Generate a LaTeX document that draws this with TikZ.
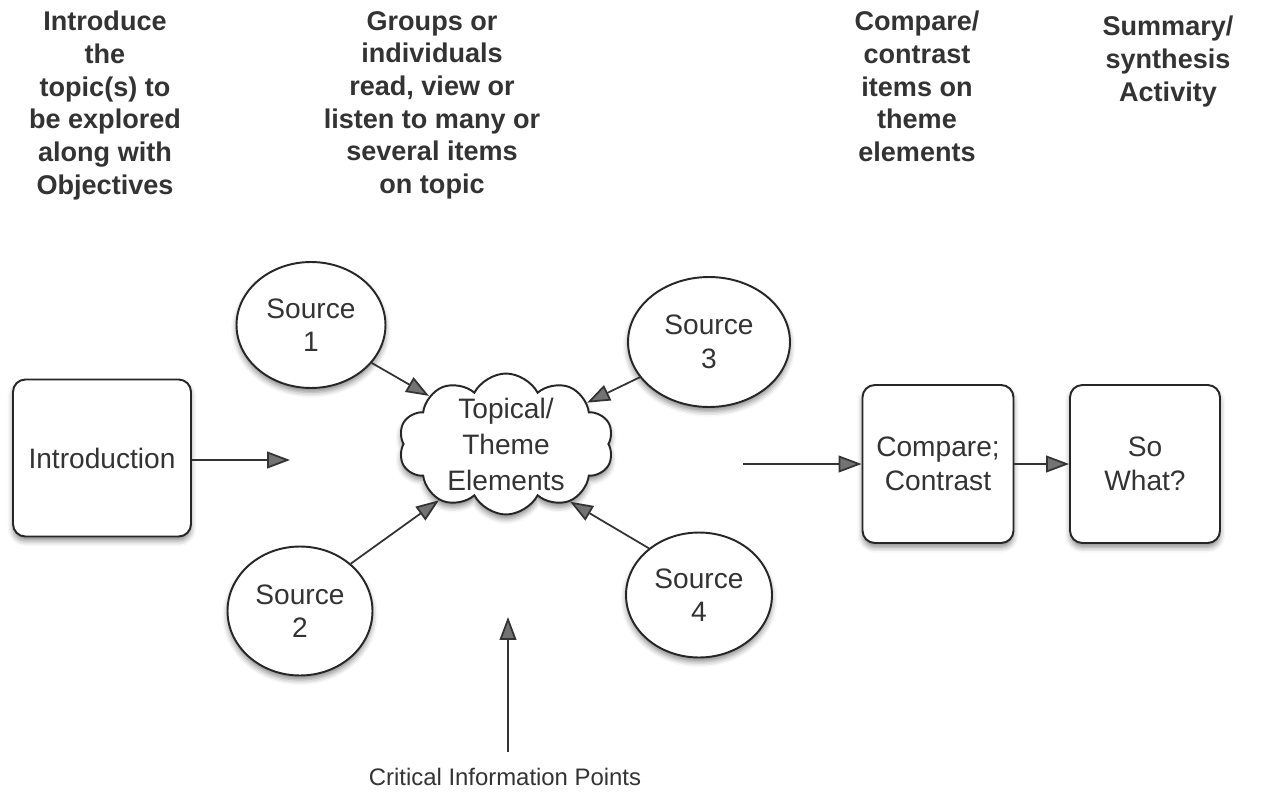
\documentclass[tikz,border=0pt]{standalone}
\usepackage{fontspec}
\setmainfont{Liberation Sans}
\usetikzlibrary{shapes.geometric,shapes.symbols,shadows.blur,arrows.meta}

\tikzset{
  shade/.style={blur shadow={shadow xshift=0pt,shadow yshift=-2.5pt,shadow blur radius=3pt,shadow opacity=45}},
  box/.style={draw=black!85,line width=1.1pt,fill=white,rounded corners=7pt,shade,align=center,inner sep=0pt,
    font=\fontsize{16}{19}\selectfont,text=black!80},
  src/.style={ellipse,draw=black!85,line width=1.1pt,fill=white,shade,align=center,inner sep=0pt,
    font=\fontsize{16}{19}\selectfont,text=black!80},
  head/.style={anchor=north,align=center,inner sep=0pt,font=\bfseries\fontsize{15.4}{18.6}\selectfont,text=black!80},
  arr/.style={draw=black!80,line width=1pt,-{Triangle[length=13pt,width=9.5pt,fill=black!55]}}
}

\begin{document}
\begin{tikzpicture}[x=0.02cm,y=-0.02cm]
\useasboundingbox (0,0) rectangle (1262,805);

\node (h1) at (105,11) [head] {Introduce\\the\\topic(s) to\\be explored\\along with\\Objectives};
\node (h2) at (432,11) [head] {Groups or\\individuals\\read, view or\\listen to many or\\several items\\on topic};
\node (h3) at (917,11) [head] {Compare/\\contrast\\items on\\theme\\elements};
\node (h4) at (1168,16) [head] {Summary/\\synthesis\\Activity};

\node (intro) at (102,458) [box,minimum width=3.56cm,minimum height=3.14cm] {Introduction};
\node (cmp) at (938,464) [box,minimum width=3.02cm,minimum height=3.16cm] {Compare;\\Contrast};
\node (sowhat) at (1145,464) [box,minimum width=3.0cm,minimum height=3.16cm] {So\\What?};

\node (s1) at (311,325) [src,minimum width=2.98cm,minimum height=2.52cm] {Source\\1};
\node (s3) at (709,342) [src,minimum width=3.24cm,minimum height=2.6cm] {Source\\3};
\node (s2) at (300,611) [src,minimum width=2.9cm,minimum height=2.58cm] {Source\\2};
\node (s4) at (699,595) [src,minimum width=2.92cm,minimum height=2.5cm] {Source\\4};

\node (cloud) at (506,444) [cloud,cloud puffs=10,cloud puff arc=125,cloud ignores aspect,draw=black!85,line width=1.1pt,
  fill=white,shade,minimum width=4.3cm,minimum height=2.82cm] {};
\node (topic) at (cloud) [align=center,inner sep=0pt,font=\fontsize{16}{20.5}\selectfont,text=black!80] {Topical/\\Theme\\Elements};

\node (crit) at (505,777) [inner sep=0pt,font=\fontsize{13.6}{16}\selectfont,text=black!80] {Critical Information Points};

\coordinate (introend) at (290,460);
\coordinate (midout) at (743,464);
\coordinate (critend) at (508,617);

\draw[arr] (intro.east |- introend) -- (introend);
\draw[arr] (s1.-32) -- (cloud.148);
\draw[arr] (s3.207) -- (cloud.27);
\draw[arr] (s2.43) -- (cloud.220);
\draw[arr] (s4.137) -- (cloud.-42);
\draw[arr] (crit.north -| critend) ++(0,-16) -- (critend);
\draw[arr] (midout) -- (cmp.west |- midout);
\draw[arr] (cmp) -- (sowhat);
\end{tikzpicture}
\end{document}
